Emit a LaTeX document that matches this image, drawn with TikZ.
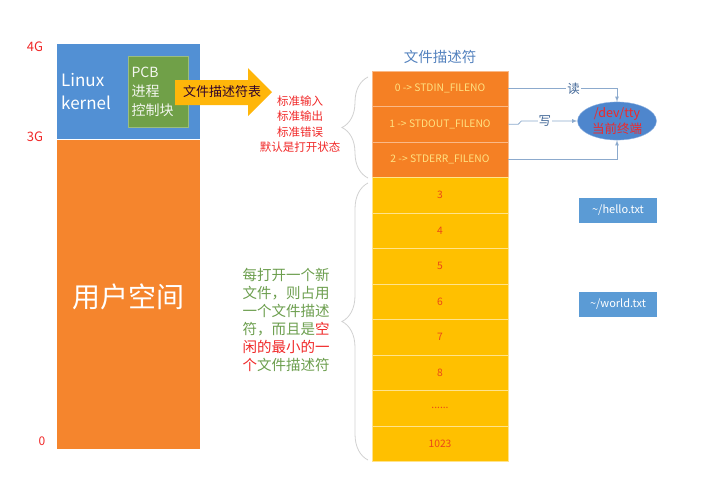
\documentclass[tikz,border=0pt]{standalone}
\usepackage{fontspec}
\setmainfont{Noto Sans CJK SC}
\usepackage{tikz}
\usetikzlibrary{positioning,shapes,arrows,calc,decorations.pathreplacing}
\usepackage{xcolor}
\definecolor{kblue}{RGB}{82,144,212}
\definecolor{morange}{RGB}{245,133,45}
\definecolor{pgreen}{RGB}{112,160,72}
\definecolor{ayellow}{RGB}{255,182,10}
\definecolor{forange}{RGB}{245,128,36}
\definecolor{fyellow}{RGB}{255,192,0}
\definecolor{lyellow}{RGB}{255,226,130}
\definecolor{nred}{RGB}{235,72,24}
\definecolor{tblue}{RGB}{84,130,190}
\definecolor{eblue}{RGB}{78,134,205}
\definecolor{fblue}{RGB}{91,155,213}
\definecolor{cblue}{RGB}{140,170,205}
\definecolor{tgreen}{RGB}{108,158,78}
\definecolor{sred}{RGB}{240,40,40}
\colorlet{bgrey}{black!18}
\newcommand{\fdmore}{......}
\tikzstyle{fdrow} = [rectangle, draw=white!55!fyellow, line width=0.6pt,
    minimum width=136pt, minimum height=35.5pt, inner sep=0pt,
    font=\fontsize{10.3}{12}\selectfont]
\tikzstyle{fileobj} = [rectangle, fill=fblue, text=white, minimum width=78pt,
    minimum height=25pt, inner sep=0pt, font=\fontsize{11}{13}\selectfont]
\tikzstyle{conn} = [draw=cblue, line width=0.8pt, -latex]
\tikzstyle{clabel} = [fill=white, inner sep=1pt, text=tblue!80!black,
    font=\fontsize{12.5}{14}\selectfont]
\tikzstyle{brace} = [draw=bgrey, line width=0.8pt, decorate,
    decoration={brace, amplitude=26pt}]
\tikzstyle{memlabel} = [text=sred, font=\fontsize{13}{15}\selectfont]

\begin{document}
\begin{tikzpicture}[x=1pt,y=-1pt]
\useasboundingbox (0,0) rectangle (710,483);

% memory of the process
\node (g4) [memlabel] at (35,47) {4G};
\node (g3) [memlabel] at (35,137) {3G};
\node (g0) [memlabel, font=\fontsize{12}{14}\selectfont] at (42,441) {0};
\node (kernel) [rectangle, fill=kblue, inner sep=0pt, minimum width=143pt,
    minimum height=95pt, anchor=north west] at (57,44) {};
\node (user) [rectangle, fill=morange, inner sep=0pt, minimum width=143pt,
    minimum height=309pt, anchor=north] at (kernel.south) {};
\node (linux) [text=white, align=left, anchor=west, inner sep=0pt,
    font=\fontsize{17}{23}\selectfont] at (61,92) {Linux\\kernel};
\node (userspace) [text=white, font=\fontsize{28}{30}\selectfont]
    at (128,297) {用户空间};
\node (pcb) [rectangle, fill=pgreen, draw=pgreen!70!white, inner sep=0pt,
    minimum width=60pt, minimum height=71pt, anchor=north west] at (128,56) {};
\node (pcbtext) [text=white!92!pgreen, align=left, anchor=west,
    font=\fontsize{14}{19}\selectfont] at (pcb.west) {PCB\\进程\\控制块};

% arrow to the table
\fill[ayellow] (175,80) -- (248,80) -- (248,68) -- (272,92) -- (248,116)
    -- (248,105) -- (175,105) -- cycle;
\node (fdtab) [text=black!65!violet, font=\fontsize{13}{15}\selectfont]
    at (222,92) {文件描述符表};
\node (std) [text=sred, align=center, font=\fontsize{11.5}{15.3}\selectfont]
    at (300,124) {标准输入\\标准输出\\标准错误\\默认是打开状态};

% file descriptor table
\node (fdtitle) [text=tblue, font=\fontsize{14.5}{16}\selectfont]
    at (440,57) {文件描述符};
\foreach \t [count=\n from 0] in {0 -> STDIN\_FILENO, 1 -> STDOUT\_FILENO,
    2 -> STDERR\_FILENO}
    \node (fd\n) [fdrow, fill=forange, draw=white!45!forange, text=lyellow]
        at (440,{88.75+35.5*\n}) {\t};
\foreach \t [count=\n from 3] in {3,4,5,6,7,8,\fdmore,1023}
    \node (fd\n) [fdrow, fill=fyellow, text=nred] at (440,{88.75+35.5*\n}) {\t};

\draw[brace] (368,178) -- (368,77);
\draw[brace] (368,460) -- (368,183);

\node (newfd) [text=tgreen, align=left, font=\fontsize{14.5}{18}\selectfont]
    at (286,320) {每打开一个新\\文件，则占用\\一个文件描述\\符，而且是\textcolor{sred}{空}\\
    \textcolor{sred}{闲的最小的一}\\\textcolor{sred}{个}文件描述符};

% terminal and files
\node (tty) [ellipse, fill=eblue, draw=eblue!60!white, text=sred, inner sep=0pt,
    minimum width=79pt, minimum height=32pt, align=center,
    font=\fontsize{12.5}{16}\selectfont] at (617,121) {/dev/tty\\当前终端};
\draw[conn] (fd0.east) -| node[clabel, pos=0.3] {读} (tty.north);
\draw[conn] (fd1.east) -- ++(10,0) -- ++(3,-3.25) -- node[clabel, pos=0.42] {写} (tty.west);
\draw[conn] (fd2.east) -| (tty.south);

\node (hello) [fileobj] at (618,210.5) {\textasciitilde/hello.txt};
\node (world) [fileobj] at (618,304.5) {\textasciitilde/world.txt};
\end{tikzpicture}
\end{document}
